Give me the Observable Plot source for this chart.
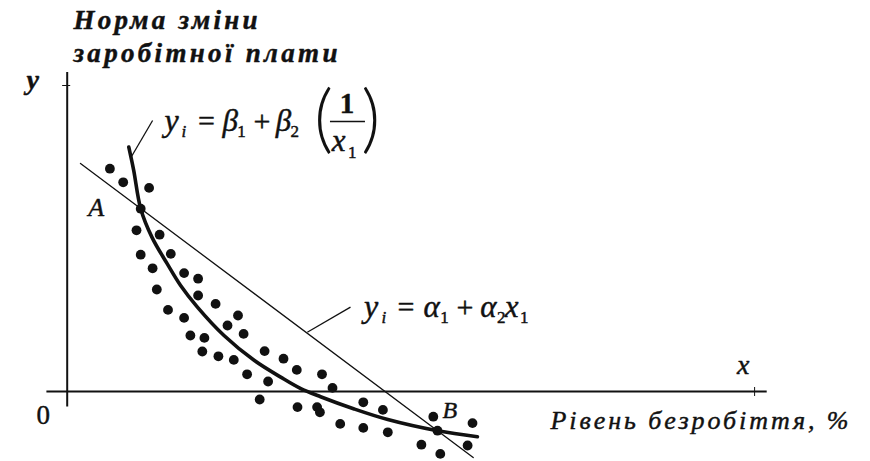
<!DOCTYPE html>
<html>
<head>
<meta charset="utf-8">
<script src="https://cdn.jsdelivr.net/npm/d3@7"></script>
<script src="https://cdn.jsdelivr.net/npm/@observablehq/plot@0.6"></script>
<style>
  html, body { margin: 0; padding: 0; background: #fff; }
  #chart svg { display: block; }
</style>
</head>
<body>
<div id="chart"></div>
<script>
// Observations: unemployment rate (x, %) vs. rate of change of wages (y)
const obsX = [0.61, 0.80, 1.17, 1.05, 0.99, 1.32, 1.05, 1.48, 1.22, 1.67, 1.87, 1.28, 1.87, 2.12, 1.44, 1.67,
              2.44, 2.29, 2.52, 1.76, 1.96, 1.93, 2.16, 2.38, 2.82, 3.09, 3.28, 2.57, 2.87, 3.64, 3.79, 2.75,
              3.29, 3.57, 3.61, 4.23, 4.51, 3.90, 4.23, 4.58, 5.23, 5.29, 5.79, 5.06, 5.33, 5.72];
const obsY = [5.57, 5.23, 5.09, 4.57, 4.03, 3.92, 3.42, 3.44, 3.08, 2.96, 2.82, 2.55, 2.40, 2.19, 2.04, 1.84,
              1.90, 1.65, 1.44, 1.40, 1.34, 1.00, 0.88, 0.79, 1.01, 0.82, 0.54, 0.43, 0.25, 0.43, 0.09, -0.20,
              -0.39, -0.39, -0.52, -0.27, -0.46, -0.81, -0.91, -1.02, -0.63, -0.98, -0.79, -1.33, -1.56, -1.35];

// Reciprocal model y = b1 + b2 (1/x): fitted curve
const recipX = [0.88, 0.95, 1.05, 1.21, 1.43, 1.62, 1.86, 2.24, 2.67, 3.05, 3.33, 3.62, 4.09, 4.58, 5.29, 5.86];
const recipY = [6.11, 5.53, 4.57, 3.86, 3.19, 2.65, 2.11, 1.40, 0.78, 0.36, 0.08, -0.13, -0.43, -0.70, -0.98, -1.13];

// Linear model y = a1 + a2 x: fitted line
const linX = [0.19, 5.80];
const linY = [5.70, -1.65];

// Axis extents
const axisXRange = [-0.29, 10.0];
const axisYRange = [-0.39, 7.975];

// Leader lines from the formulas to the fitted lines
const leaders = [
  {x1: 1.22, y1: 6.775, x2: 0.919, y2: 5.875},
  {x1: 4.047, y1: 2.108, x2: 3.43, y2: 1.48}
];

// Text labels (fit = rendered width in px, reached through letter spacing)
const serif = "'Liberation Serif', serif";
const labels = [
  {text: "Норма зміни", x: 0.09, y: 9.07, size: 27, style: "italic", weight: "bold", fit: 184},
  {text: "заробітної плати", x: 0.09, y: 8.24, size: 27, style: "italic", weight: "bold", fit: 264},
  {text: "y", x: -0.58, y: 7.575, size: 28, style: "italic", weight: "bold"},
  {text: "0", x: -0.44, y: -0.80, size: 27, style: "normal", weight: "normal"},
  {text: "x", x: 9.57, y: 0.45, size: 28, style: "italic", weight: "normal"},
  {text: "A", x: 0.30, y: 4.40, size: 26, style: "italic", weight: "normal"},
  {text: "B", x: 5.36, y: -0.65, size: 24, style: "italic", weight: "normal"},
  {text: "Рівень безробіття, %", x: 6.904, y: -0.925, size: 26, style: "italic", weight: "normal", fit: 298}
];

// Formula pieces: main symbols and subscripts
const formulaPieces = [
  // y_i = β1 + β2 (1 / x1)
  {text: "y", x: 1.39, y: 6.525, size: 32, style: "italic"},
  {text: "i", x: 1.633, y: 6.36, size: 17, style: "italic"},
  {text: "=", x: 1.87, y: 6.525, size: 30, style: "normal"},
  {text: "β", x: 2.22, y: 6.525, size: 31, style: "italic"},
  {text: "1", x: 2.43, y: 6.36, size: 17, style: "normal"},
  {text: "+", x: 2.66, y: 6.525, size: 30, style: "normal"},
  {text: "β", x: 2.98, y: 6.525, size: 31, style: "italic"},
  {text: "2", x: 3.19, y: 6.36, size: 17, style: "normal"},
  {text: "1", x: 3.997, y: 6.975, size: 29, style: "normal", weight: "bold", anchor: "middle"},
  {text: "x", x: 3.78, y: 6.025, size: 31, style: "italic"},
  {text: "1", x: 4.01, y: 5.85, size: 17, style: "normal"},
  // y_i = α1 + α2 x1
  {text: "y", x: 4.24, y: 1.858, size: 32, style: "italic"},
  {text: "i", x: 4.49, y: 1.72, size: 17, style: "italic"},
  {text: "=", x: 4.72, y: 1.858, size: 30, style: "normal"},
  {text: "α", x: 5.09, y: 1.858, size: 31, style: "italic"},
  {text: "1", x: 5.33, y: 1.72, size: 17, style: "normal"},
  {text: "+", x: 5.56, y: 1.858, size: 30, style: "normal"},
  {text: "α", x: 5.9, y: 1.858, size: 31, style: "italic"},
  {text: "2", x: 6.14, y: 1.72, size: 17, style: "normal"},
  {text: "x", x: 6.25, y: 1.858, size: 31, style: "italic"},
  {text: "1", x: 6.47, y: 1.72, size: 17, style: "normal"}
];
const parens = [
  {text: "(", x: 3.526, y: 6.20},
  {text: ")", x: 4.20, y: 6.20}
];
const fractionBar = {y: 6.75, x1: 3.761, x2: 4.261};

const ink = "#111";
const dots = obsX.map((x, i) => ({x, y: obsY[i]}));
const recip = recipX.map((x, i) => ({x, y: recipY[i]}));
const lin = linX.map((x, i) => ({x, y: linY[i]}));

// Text in a heavy book style: a thin stroke of the same ink thickens the glyphs
const textMark = (d) => Plot.text([d], {
  x: "x", y: "y", text: "text",
  textAnchor: d.anchor || "start", lineAnchor: "bottom",
  fontFamily: d.family || serif, fontSize: d.size,
  fontStyle: d.style, fontWeight: d.weight || "normal",
  fill: ink, stroke: ink, strokeWidth: d.family ? 0 : 0.45
});

const chart = Plot.plot({
  width: 870,
  height: 461,
  marginTop: 0, marginRight: 0, marginBottom: 0, marginLeft: 0,
  x: {domain: [-66.7 / 70, (870 - 66.7) / 70], axis: null},
  y: {domain: [(391 - 461) / 40, 391 / 40], axis: null},
  style: {background: "#fff"},
  marks: [
    // axes
    Plot.ruleY([0], {x1: axisXRange[0], x2: axisXRange[1], stroke: ink, strokeWidth: 2.2}),
    Plot.ruleX([0], {y1: axisYRange[0], y2: axisYRange[1], stroke: ink, strokeWidth: 2}),
    Plot.ruleY([7.65], {x1: -0.065, x2: 0.05, stroke: ink, strokeWidth: 1}),
    Plot.ruleX([9.82], {y1: -0.125, y2: 0.1, stroke: ink, strokeWidth: 1}),
    // linear fit
    Plot.line(lin, {x: "x", y: "y", stroke: ink, strokeWidth: 1.3}),
    // reciprocal fit
    Plot.line(recip, {x: "x", y: "y", stroke: ink, strokeWidth: 3.6, curve: "catmull-rom"}),
    // observations
    Plot.dot(dots, {x: "x", y: "y", r: 4.9, fill: ink}),
    // leaders
    Plot.link(leaders, {x1: "x1", y1: "y1", x2: "x2", y2: "y2", stroke: ink, strokeWidth: 1.3}),
    // labels
    ...labels.map(textMark),
    ...formulaPieces.map(textMark),
    ...parens.map(d => textMark({...d, size: 74, style: "normal", weight: "300", family: "Lato, sans-serif"})),
    Plot.ruleY([fractionBar.y], {x1: fractionBar.x1, x2: fractionBar.x2, stroke: ink, strokeWidth: 1.4})
  ]
});
document.getElementById("chart").appendChild(chart);

// Widen the spaced-out labels to their set widths
for (const d of labels.filter(d => d.fit)) {
  d3.select(chart).selectAll("text")
    .filter(function() { return this.textContent === d.text; })
    .each(function() {
      const n = d.text.length;
      const w = this.getComputedTextLength();
      this.setAttribute("letter-spacing", Math.max(0, (d.fit - w) / (n - 1)).toFixed(2));
    });
}
</script>
</body>
</html>
